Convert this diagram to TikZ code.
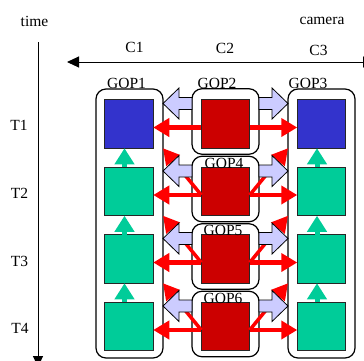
\documentclass[tikz,border=0pt]{standalone}
\usepackage{fontspec}
\setmainfont{Liberation Serif}
\usetikzlibrary{arrows.meta,calc}
\definecolor{keyblue}{HTML}{3333CC}
\definecolor{keyred}{HTML}{CC0000}
\definecolor{keygreen}{HTML}{00CC99}
\definecolor{lav}{HTML}{CCCCFF}
\definecolor{predred}{HTML}{FF0000}
\tikzset{
  sq/.style={draw=black!85, line width=0.8pt, minimum size=48.5pt, inner sep=0pt, outer sep=0pt},
  gopbox/.style={draw=black, line width=1.2pt, rounded corners=10pt, minimum width=67pt, inner sep=0pt, outer sep=0pt, fill=white},
  lbl/.style={anchor=base, inner sep=0pt},
  axis/.style={draw=black, line width=1pt},
  redh/.style={draw=predred, line width=4.5pt, -{Triangle[length=16pt,width=18pt]}},
  redd/.style={draw=predred, line width=3.5pt, -{Triangle[length=16pt,width=17pt]}},
  grn/.style={draw=keygreen, line width=5pt, -{Triangle[length=16pt,width=19pt]}},
  lavout/.style={draw=black, line width=0.8pt, fill=lav, line join=miter},
  barrow/.pic={\path[lavout] (0,0) -- (16,-15.5) -- (16,-6) -- (29,-6) -- (29,6) -- (16,6) -- (16,15.5) -- cycle;}
}
\begin{document}
\begin{tikzpicture}[x=1pt, y=-1pt, font=\fontsize{15.5}{18}\selectfont]
\useasboundingbox (0,0) rectangle (364,360);

% axes
\coordinate (tTop) at (38,42);
\coordinate (tEnd) at (38,367);
\draw[axis, -{Triangle[length=11pt,width=10pt]}] (tTop) -- (tEnd);
\coordinate (cL) at (67,62);
\coordinate (cR) at (375,62);
\draw[axis, {Triangle[length=12pt,width=11pt]}-{Triangle[length=12pt,width=11pt]}] (cL) -- (cR);

% axis labels
\node[lbl] (ltime) at (34.5,26) {time};
\node[lbl] (lcam) at (322,24) {camera};
\node[lbl] (lc1) at (134.5,52.5) {C1};
\node[lbl] (lc2) at (225,53) {C2};
\node[lbl] (lc3) at (318.5,55) {C3};
\node[lbl] (lt1) at (19,130) {T1};
\node[lbl] (lt2) at (19.5,198) {T2};
\node[lbl] (lt3) at (19.5,266) {T3};
\node[lbl] (lt4) at (20,333) {T4};

% GOP frames
\node[gopbox, minimum height=269pt] (gop1) at (129.5,223.5) {};
\node[gopbox, minimum height=269pt] (gop3) at (321.5,223.5) {};
\node[gopbox, minimum height=65.5pt] (g2) at (225.5,121.5) {};
\node[gopbox, minimum height=65.5pt] (g4) at (225.5,189) {};
\node[gopbox, minimum height=65.5pt] (g5) at (225.5,256.5) {};
\node[gopbox, minimum height=65.5pt] (g6) at (225.5,324) {};

% frames per camera and time
\node[sq, fill=keyblue]  (a1) at (129,124) {};
\node[sq, fill=keygreen] (a2) at (129,191.5) {};
\node[sq, fill=keygreen] (a3) at (129,259) {};
\node[sq, fill=keygreen] (a4) at (129,326.5) {};
\node[sq, fill=keyred] (m1) at (225.5,124) {};
\node[sq, fill=keyred] (m2) at (225.5,191.5) {};
\node[sq, fill=keyred] (m3) at (225.5,259) {};
\node[sq, fill=keyred] (m4) at (225.5,326.5) {};
\node[sq, fill=keyblue]  (c1) at (321.5,124) {};
\node[sq, fill=keygreen] (c2) at (321.5,191.5) {};
\node[sq, fill=keygreen] (c3) at (321.5,259) {};
\node[sq, fill=keygreen] (c4) at (321.5,326.5) {};

% inter-view prediction, same instant
\foreach \r in {1,2,3,4}{
  \draw[redh] ([yshift=-3.5pt]m\r.west) -- ([yshift=-3.5pt]a\r.east);
  \draw[redh] ([yshift=-3.5pt]m\r.east) -- ([yshift=-3.5pt]c\r.west);
}
% inter-view prediction, previous instant
\foreach \r/\p in {2/1,3/2,4/3}{
  \draw[redd] ([yshift=-3.5pt]m\r.west) -- (gop1.east |- a\p.south);
  \draw[redd] ([yshift=-3.5pt]m\r.east) -- (gop3.west |- c\p.south);
}

% temporal prediction in the side views
\foreach \r/\p in {2/1,3/2,4/3}{
  \draw[grn] ([xshift=-4.5pt]a\r.north) -- ([xshift=-4.5pt]a\p.south);
  \draw[grn] ([xshift=-4.5pt]c\r.north) -- ([xshift=-4.5pt]c\p.south);
}

% GOP dependency block arrows
\foreach \r in {1,2,3,4}{
  \pic at ($(gop1.east |- m\r.center)+(0,-20.5)$) {barrow};
  \pic[xscale=-1] at ($(gop3.west |- m\r.center)+(0,-20.5)$) {barrow};
}

% GOP labels
\node[lbl] (lg1) at (126.5,88) {GOP1};
\node[lbl] (lg2) at (217,88) {GOP2};
\node[lbl] (lg3) at (308,88) {GOP3};
\node[lbl] (lg4) at (224,168) {GOP4};
\node[lbl] (lg5) at (223,235) {GOP5};
\node[lbl] (lg6) at (223,303) {GOP6};
\end{tikzpicture}
\end{document}
